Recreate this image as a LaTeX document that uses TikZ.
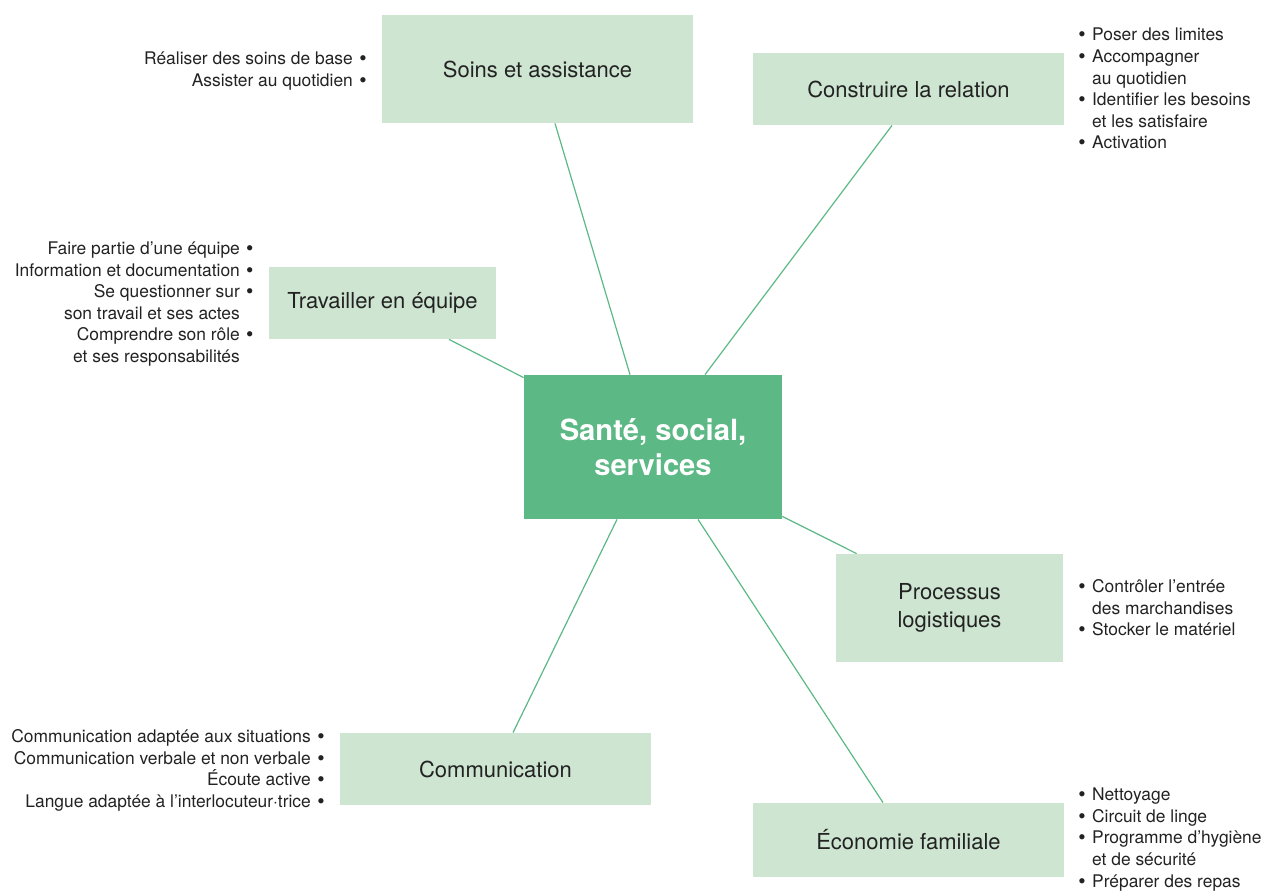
\documentclass[tikz,border=0pt]{standalone}
\usepackage{fontspec}
\setmainfont{TeX Gyre Heros}
\usetikzlibrary{positioning,calc}
\definecolor{vert}{HTML}{5CB986}
\definecolor{vertclair}{HTML}{CDE5D1}
\definecolor{texte}{HTML}{222222}
\newcommand{\puce}{\raisebox{-0.5pt}{\fontsize{10.5}{0}\selectfont\textbullet}}
\newcommand{\pucedroite}{\puce\hspace{3.2pt}}
\newcommand{\pucegauche}{\hspace{3.2pt}\puce}
\newcommand{\sanspuce}{\phantom{\pucedroite}}
\tikzset{
 m/.style
  = {rectangle, fill=vert, text=white, inner sep=0pt, minimum width=129pt,
     minimum height=72pt, align=center, font=\fontsize{14.6}{17.5}\selectfont\bfseries},
 b/.style
  = {rectangle, fill=vertclair, text=texte, inner sep=0pt, minimum width=155.5pt,
     minimum height=36pt, align=center, font=\fontsize{11}{14}\selectfont},
 tl/.style
  = {anchor=east, align=right, inner sep=0pt, text=texte,
     font=\fontsize{8.7}{10.8}\selectfont},
 tr/.style
  = {anchor=west, align=left, inner sep=0pt, text=texte,
     font=\fontsize{8.7}{10.8}\selectfont},
 l/.style
  = {draw, vert, line width=0.6pt}
}

\begin{document}
\begin{tikzpicture}[x=0.5pt, y=-0.5pt]
    \useasboundingbox (0,0) rectangle (1264,891);

    \node [m] (hub) at (653,447) {Santé, social,\\ services};
    \node [b, minimum height=54pt] (soins) at (537.5,69) {Soins et assistance};
    \node [b] (relation) at (908.5,89) {Construire la relation};
    \node [b, minimum width=113.5pt] (equipe) at (382.5,303) {Travailler en équipe};
    \node [b, minimum width=113.5pt, minimum height=54pt] (logistique) at (949.5,608) {Processus\\ logistiques};
    \node [b] (comm) at (495.5,769) {Communication};
    \node [b, minimum height=37pt] (eco) at (908.5,840) {Économie familiale};

    % listes
    \node [tl] (soinsliste) at (367,71) {Réaliser des soins de base\pucegauche\\ Assister au quotidien\pucegauche};
    \node [tr] (relationliste) at (1078,89) {\pucedroite Poser des limites\\ \pucedroite Accompagner\\ \sanspuce au quotidien\\
      \pucedroite Identifier les besoins\\ \sanspuce et les satisfaire\\ \pucedroite Activation};
    \node [tl] (equipeliste) at (254,304) {Faire partie d’une équipe\pucegauche\\ Information et documentation\pucegauche\\
      Se questionner sur\pucegauche\\ son travail et ses actes\sanspuce\\ Comprendre son rôle\pucegauche\\ et ses responsabilités\sanspuce};
    \node [tr] (logistiqueliste) at (1078,608) {\pucedroite Contrôler l’entrée\\ \sanspuce des marchandises\\ \pucedroite Stocker le matériel};
    \node [tl] (commliste) at (325,770.5) {Communication adaptée aux situations\pucegauche\\ Communication verbale et non verbale\pucegauche\\
      Écoute active\pucegauche\\ Langue adaptée à l’interlocuteur·trice\pucegauche};
    \node [tr] (ecoliste) at (1078,839.5) {\pucedroite Nettoyage\\ \pucedroite Circuit de linge\\ \pucedroite Programme d’hygiène\\
      \sanspuce et de sécurité\\ \pucedroite Préparer des repas};

    \path [l] ($(soins.south)+(17.5,0)$) -- ($(hub.north)+(-23,0)$);
    \path [l] ($(relation.south)+(-16.5,0)$) -- ($(hub.north)+(52,0)$);
    \path [l] ($(equipe.south)+(66.5,0)$) -- ($(hub.north west)+(0,3)$);
    \path [l] ($(logistique.north west)+(21,0)$) -- ($(hub.south east)+(0,-3)$);
    \path [l] ($(comm.north)+(17.5,0)$) -- ($(hub.south)+(-36,0)$);
    \path [l] ($(eco.north)+(-25.5,0)$) -- ($(hub.south)+(45,0)$);

\end{tikzpicture}
\end{document}
